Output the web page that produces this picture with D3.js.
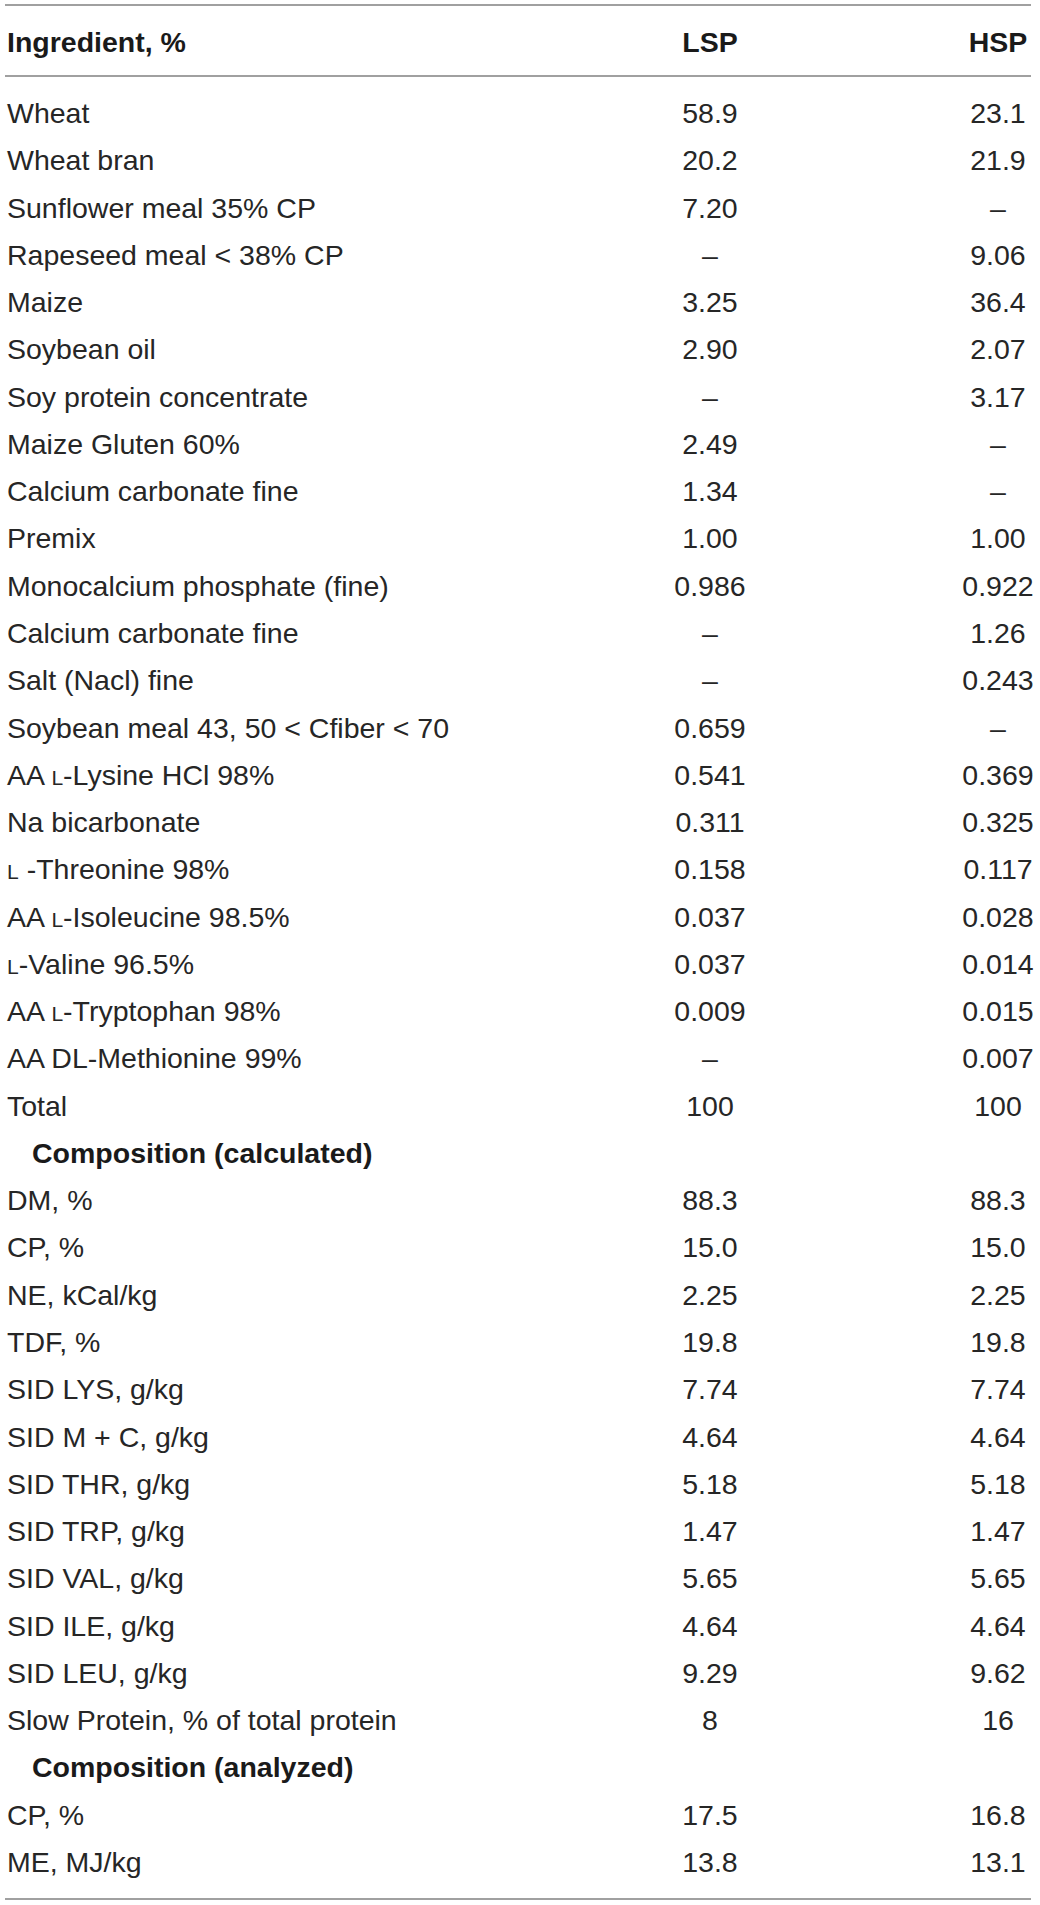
<!DOCTYPE html>
<html>
<head>
<meta charset="utf-8">
<script src="https://cdn.jsdelivr.net/npm/d3@7"></script>
<style>
  body { margin: 0; background: #fff; }
  text { font-family: "Liberation Sans", Arial, Helvetica, sans-serif; }
</style>
</head>
<body>
<svg id="tbl"></svg>
<script>
// table content ("{L}" = small-caps L)
var columns = ["Ingredient, %", "LSP", "HSP"];

var rowLabels = [
  "Wheat", "Wheat bran", "Sunflower meal 35% CP", "Rapeseed meal < 38% CP",
  "Maize", "Soybean oil", "Soy protein concentrate", "Maize Gluten 60%",
  "Calcium carbonate fine", "Premix", "Monocalcium phosphate (fine)",
  "Calcium carbonate fine", "Salt (Nacl) fine", "Soybean meal 43, 50 < Cfiber < 70",
  "AA {L}-Lysine HCl 98%", "Na bicarbonate", "{L} -Threonine 98%",
  "AA {L}-Isoleucine 98.5%", "{L}-Valine 96.5%", "AA {L}-Tryptophan 98%",
  "AA DL-Methionine 99%", "Total",
  "Composition (calculated)",
  "DM, %", "CP, %", "NE, kCal/kg", "TDF, %", "SID LYS, g/kg", "SID M + C, g/kg",
  "SID THR, g/kg", "SID TRP, g/kg", "SID VAL, g/kg", "SID ILE, g/kg",
  "SID LEU, g/kg", "Slow Protein, % of total protein",
  "Composition (analyzed)",
  "CP, %", "ME, MJ/kg"
];

var sectionRows = ["Composition (calculated)", "Composition (analyzed)"];

var lspValues = [
  "58.9", "20.2", "7.20", "–", "3.25", "2.90", "–", "2.49", "1.34", "1.00",
  "0.986", "–", "–", "0.659", "0.541", "0.311", "0.158", "0.037", "0.037",
  "0.009", "–", "100",
  "",
  "88.3", "15.0", "2.25", "19.8", "7.74", "4.64", "5.18", "1.47", "5.65",
  "4.64", "9.29", "8",
  "",
  "17.5", "13.8"
];

var hspValues = [
  "23.1", "21.9", "–", "9.06", "36.4", "2.07", "3.17", "–", "–", "1.00",
  "0.922", "1.26", "0.243", "–", "0.369", "0.325", "0.117", "0.028", "0.014",
  "0.015", "0.007", "100",
  "",
  "88.3", "15.0", "2.25", "19.8", "7.74", "4.64", "5.18", "1.47", "5.65",
  "4.64", "9.62", "16",
  "",
  "16.8", "13.1"
];

var width = 1040,
    height = 1905,
    fontSize = 28.5,
    textColor = "#262626",
    ruleColor = "#a0a0a0";

var svg = d3.select("#tbl")
  .attr("width", width)
  .attr("height", height);

// columns: label column left aligned, the two diet columns centred
var x = d3.scaleOrdinal()
  .domain(columns)
  .range([7, 710, 998]);

// one baseline per body row
var y = d3.scalePoint()
  .domain(d3.range(rowLabels.length))
  .range([123, 1872]);

var headerBaseline = 52;

// horizontal rules (top, under header, bottom)
svg.selectAll("line.rule")
  .data([5, 76, 1899])
  .join("line")
  .attr("class", "rule")
  .attr("x1", 5)
  .attr("x2", 1031)
  .attr("y1", d => d)
  .attr("y2", d => d)
  .attr("stroke", ruleColor)
  .attr("stroke-width", 2);

// header
svg.selectAll("text.head")
  .data(columns)
  .join("text")
  .attr("class", "head")
  .attr("x", d => x(d))
  .attr("y", headerBaseline)
  .attr("text-anchor", (d, i) => i == 0 ? "start" : "middle")
  .attr("font-size", fontSize)
  .attr("font-weight", "bold")
  .attr("fill", "#1a1a1a")
  .text(d => d);

// row labels
var labels = svg.selectAll("text.label")
  .data(rowLabels)
  .join("text")
  .attr("class", "label")
  .attr("x", d => sectionRows.includes(d) ? 32 : x(columns[0]))
  .attr("y", (d, i) => y(i))
  .attr("font-size", fontSize)
  .attr("font-weight", d => sectionRows.includes(d) ? "bold" : "normal")
  .attr("fill", d => sectionRows.includes(d) ? "#1a1a1a" : textColor);

labels.each(function(d) {
  var t = d3.select(this);
  var parts = d.split("{L}");
  parts.forEach(function(p, k) {
    if (k > 0) {
      t.append("tspan").attr("font-size", fontSize * 0.74).text("L");
    }
    if (p.length) t.append("tspan").text(p);
  });
});

// value columns
[lspValues, hspValues].forEach(function(vals, c) {
  svg.selectAll("text.val" + c)
    .data(vals)
    .join("text")
    .attr("class", "val" + c)
    .attr("x", x(columns[c + 1]))
    .attr("y", (d, i) => y(i))
    .attr("text-anchor", "middle")
    .attr("font-size", fontSize)
    .attr("fill", textColor)
    .text(d => d);
});
</script>
</body>
</html>
